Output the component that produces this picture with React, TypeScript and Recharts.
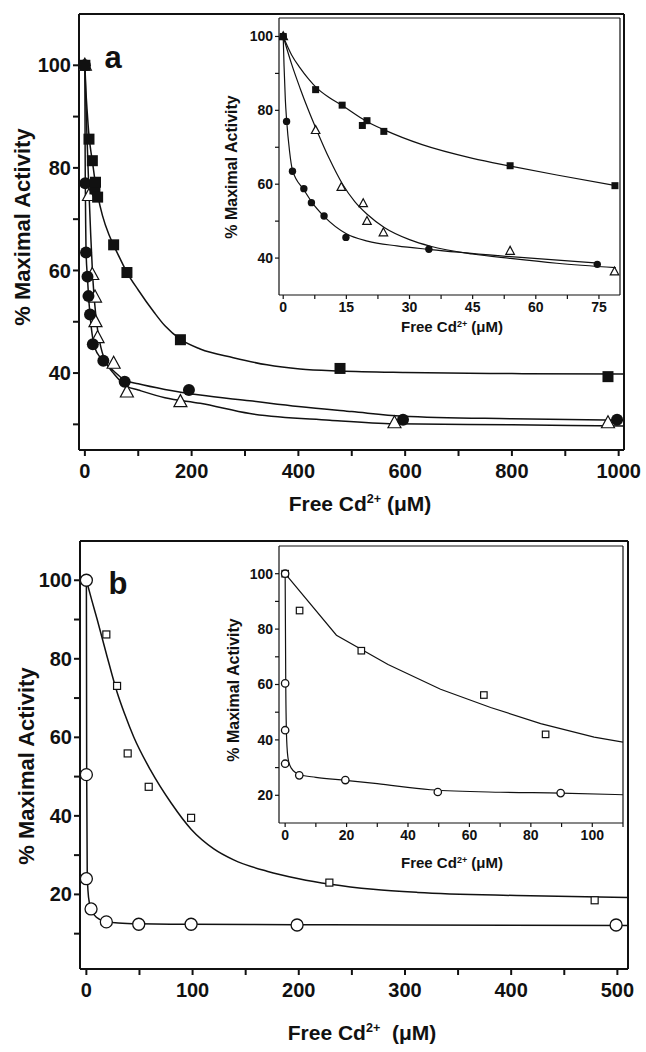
import React from "react";
import { ComposedChart, Line, Scatter, XAxis, YAxis, ReferenceLine } from "recharts";

type P = { x: number; y: number };
const pts = (rows: number[][]): P[] => rows.map(([x, y]) => ({ x, y }));

// ---- panel a: measured points (main plot, inset shows x <= 80)
const aSquares = pts([[0, 100], [7.7, 85.6], [14, 81.4], [18.8, 75.9], [19.9, 77.2], [23.9, 74.3], [53.9, 65], [78.8, 59.6], [179, 46.5], [478, 40.9], [980, 39.3]]);
const aCircles = pts([[0, 100], [0.8, 77], [2.2, 63.5], [4.9, 58.8], [6.7, 55], [9.7, 51.4], [14.9, 45.6], [34.6, 42.4], [74.6, 38.3], [195, 36.7], [596, 30.9], [997, 30.9]]);
const aTriangles = pts([[0, 100], [7.7, 74.6], [13.8, 59.2], [19, 54.8], [19.9, 50], [23.8, 46.9], [53.9, 41.9], [78.7, 36.3], [179, 34.4], [580, 30.3], [980, 30.3]]);

// ---- panel a: fitted curves
const aSquareFit = pts([[0, 100], [2, 95], [4, 91.5], [6, 88.5], [8, 86], [11, 83.4], [14, 81.3], [19.5, 77.2], [24, 74.7], [33, 70.7], [45, 67], [54, 64.9], [65, 62.5], [79, 59.6], [100, 56.2], [130, 51.8], [150, 49.2], [180, 46.5], [216, 44.7], [278, 43], [341, 41.6], [403, 40.8], [478, 40.4], [600, 40.1], [800, 39.9], [1010, 39.8]]);
const aCircleFit = pts([[0, 100], [0.2, 92], [0.5, 83], [0.8, 77.5], [1.5, 69], [2.2, 63.8], [4.9, 58.5], [6.7, 55.3], [9.7, 51.3], [15, 46.6], [20, 44.6], [27, 43.3], [35, 42.3], [54, 40.4], [75, 38.6], [100, 37.9], [150, 36.8], [216, 35.7], [309, 34.6], [400, 33.5], [500, 32.5], [595, 31.6], [800, 31.1], [1010, 30.8]]);
const aTriangleFit = pts([[0, 100], [2, 92.5], [4, 86], [6, 80], [8, 74.5], [11, 66.8], [14, 60.2], [17, 55.3], [20, 51.8], [24, 48.3], [30, 45], [35, 43.2], [45, 41.1], [54, 39.9], [65, 38.6], [79, 37.4], [100, 36.7], [150, 35.2], [216, 34.1], [309, 32.1], [459, 30.8], [580, 30.1], [800, 29.9], [1010, 29.7]]);

// ---- panel b main: points and curves
const bSquares = pts([[0, 100], [18.8, 86.2], [28.9, 73.1], [38.9, 55.9], [58.7, 47.4], [98.6, 39.5], [228.8, 23], [478.6, 18.5]]);
const bCircles = pts([[0, 100], [0, 50.5], [0, 24], [4.4, 16.3], [18.8, 13], [49.3, 12.4], [98.6, 12.4], [198.4, 12.2], [498.8, 12.2]]);
const bSquareFit = pts([[0, 100], [5, 95], [10, 90.2], [18.8, 81.3], [28.9, 71.5], [36, 66], [44.6, 60.1], [60.3, 51.7], [80, 43.2], [98.6, 36.6], [120, 31.6], [138.7, 28.8], [170, 25.9], [200, 24], [229.8, 22.6], [270, 21.3], [312, 20.5], [405, 19.7], [510, 19.2]]);
const bCircleFit = pts([[0, 100], [0.3, 50], [0.8, 26], [1.5, 21], [3, 17.6], [4.4, 16.3], [8, 14.6], [12, 13.7], [18.8, 13], [30, 12.7], [49.3, 12.5], [98.6, 12.4], [198.4, 12.3], [300, 12.2], [510, 12.1]]);

// ---- panel b inset: points and curves
const bInSquares = pts([[0, 100], [4.7, 86.7], [24.8, 72.2], [64.7, 56.2], [84.8, 42]]);
const bInCircles = pts([[0, 100], [0, 60.4], [0, 43.5], [0, 31.4], [4.6, 27.2], [19.6, 25.5], [49.7, 21.2], [89.7, 20.8]]);
const bInSquareFit = pts([[0, 100], [16.7, 77.8], [33.5, 67.2], [50.6, 58.3], [66.9, 51.7], [83.2, 45.9], [100.6, 41], [110, 39.2]]);
const bInCircleFit = pts([[0, 100], [0.2, 60], [0.5, 40], [1, 33], [2, 29.8], [4.6, 27.5], [10, 26.5], [19.6, 25.4], [30, 24.2], [47.3, 22], [70, 21.1], [89.7, 20.8], [110, 20.2]]);

// ---- ticks
const aXTicks = [0, 100, 200, 300, 400, 500, 600, 700, 800, 900, 1000];
const aXLabels = [0, 200, 400, 600, 800, 1000];
const aYTicks = [30, 40, 50, 60, 70, 80, 90, 100];
const aYLabels = [40, 60, 80, 100];
const aInXTicks = [0, 7.5, 15, 22.5, 30, 37.5, 45, 52.5, 60, 67.5, 75];
const aInXLabels = [0, 15, 30, 45, 60, 75];
const aInYTicks = [40, 50, 60, 70, 80, 90, 100];
const aInYLabels = [40, 60, 80, 100];
const bXTicks = [0, 50, 100, 150, 200, 250, 300, 350, 400, 450, 500];
const bXLabels = [0, 100, 200, 300, 400, 500];
const bYTicks = [10, 20, 30, 40, 50, 60, 70, 80, 90, 100];
const bYLabels = [20, 40, 60, 80, 100];
const bInXTicks = [0, 10, 20, 30, 40, 50, 60, 70, 80, 90, 100, 110];
const bInXLabels = [0, 20, 40, 60, 80, 100];
const bInYTicks = [20, 30, 40, 50, 60, 70, 80, 90, 100];
const bInYLabels = [20, 40, 60, 80, 100];

const INK = "#111";
const FONT = "'Liberation Sans', Arial, sans-serif";

const fSquare = (s: number) => (p: any) => <rect x={p.cx - s / 2} y={p.cy - s / 2} width={s} height={s} fill={INK} />;
const fCircle = (r: number) => (p: any) => <circle cx={p.cx} cy={p.cy} r={r} fill={INK} />;
const oTriangle = (s: number) => (p: any) => (
  <polygon
    points={`${p.cx},${p.cy - s * 0.55} ${p.cx - s / 2},${p.cy + s * 0.38} ${p.cx + s / 2},${p.cy + s * 0.38}`}
    fill="#fff"
    stroke={INK}
    strokeWidth={1.2}
  />
);
const oSquare = (s: number) => (p: any) => (
  <rect x={p.cx - s / 2} y={p.cy - s / 2} width={s} height={s} fill="#fff" stroke={INK} strokeWidth={1.2} />
);
const oCircle = (r: number) => (p: any) => <circle cx={p.cx} cy={p.cy} r={r} fill="#fff" stroke={INK} strokeWidth={1.3} />;

const fit = (key: string, data: P[], w: number, type: "monotone" | "linear" = "monotone") => (
  <Line key={key} data={data} dataKey="y" type={type} stroke={INK} strokeWidth={w} dot={false} activeDot={false} isAnimationActive={false} />
);
const marks = (key: string, data: P[], shape: any) => (
  <Scatter key={key} data={data} dataKey="y" shape={shape} isAnimationActive={false} />
);

type PlotProps = {
  left: number; top: number; width: number; height: number;
  margin: { top: number; right: number; bottom: number; left: number };
  yWidth: number; xHeight: number;
  xDomain: [number, number]; yDomain: [number, number];
  xTicks: number[]; xLabels: number[]; yTicks: number[]; yLabels: number[];
  fontSize: number; tick: number; xMargin: number; yMargin: number; line: number;
  children: React.ReactNode;
};

function Plot(p: PlotProps) {
  const tickStyle = { fontSize: p.fontSize, fontWeight: 700, fill: INK, fontFamily: FONT };
  const axisStyle = { stroke: INK, strokeWidth: p.line };
  return (
    <div style={{ position: "absolute", left: p.left, top: p.top }}>
      <ComposedChart width={p.width} height={p.height} margin={p.margin}>
        <XAxis
          type="number" dataKey="x" domain={p.xDomain} allowDataOverflow ticks={p.xTicks} interval={0}
          tickFormatter={(v: number) => (p.xLabels.includes(v) ? String(v) : "")}
          height={p.xHeight} tickSize={p.tick} tickMargin={p.xMargin}
          tick={tickStyle} axisLine={axisStyle} tickLine={axisStyle}
        />
        <YAxis
          type="number" dataKey="y" domain={p.yDomain} allowDataOverflow ticks={p.yTicks} interval={0}
          tickFormatter={(v: number) => (p.yLabels.includes(v) ? String(v) : "")}
          width={p.yWidth} tickSize={p.tick} tickMargin={p.yMargin}
          tick={tickStyle} axisLine={axisStyle} tickLine={axisStyle}
        />
        <ReferenceLine x={p.xDomain[1]} stroke={INK} strokeWidth={p.line} />
        <ReferenceLine y={p.yDomain[1]} stroke={INK} strokeWidth={p.line} />
        {p.children}
      </ComposedChart>
    </div>
  );
}

function Txt({ x, y, size, rotate, children }: { x: number; y: number; size: number; rotate?: boolean; children: React.ReactNode }) {
  return (
    <div
      style={{
        position: "absolute", left: x, top: y, transform: `translate(-50%, -50%)${rotate ? " rotate(-90deg)" : ""}`,
        fontFamily: FONT, fontWeight: 700, fontSize: size, lineHeight: 1, color: INK, whiteSpace: "pre",
      }}
    >
      {children}
    </div>
  );
}

const Sup = () => (
  <span style={{ fontSize: "0.6em", position: "relative", top: "-0.6em" }}>2+</span>
);

const upTo = (d: P[], m: number) => d.filter((q) => q.x <= m);

export default function App() {
  return (
    <div style={{ position: "absolute", left: 0, top: 0, width: 646, height: 1052, background: "#fff" }}>
      {/* panel a main */}
      <Plot left={0} top={0} width={646} height={520} margin={{ top: 14, right: 22, bottom: 30, left: 0 }}
        yWidth={79} xHeight={40} xDomain={[-11, 1010]} yDomain={[25, 110]}
        xTicks={aXTicks} xLabels={aXLabels} yTicks={aYTicks} yLabels={aYLabels}
        fontSize={20} tick={6} xMargin={8} yMargin={2} line={2}>
        {[
          fit("sf", aSquareFit, 1.5),
          fit("cf", aCircleFit, 1.5),
          fit("tf", aTriangleFit, 1.5),
          marks("t", aTriangles, oTriangle(13)),
          marks("c", aCircles, fCircle(6)),
          marks("s", aSquares, fSquare(11)),
        ]}
      </Plot>
      {/* panel a inset */}
      <Plot left={200} top={0} width={446} height={340} margin={{ top: 18, right: 26, bottom: 15, left: 0 }}
        yWidth={79} xHeight={30} xDomain={[-1, 80]} yDomain={[30, 105]}
        xTicks={aInXTicks} xLabels={aInXLabels} yTicks={aInYTicks} yLabels={aInYLabels}
        fontSize={14} tick={4} xMargin={3} yMargin={2} line={1.2}>
        {[
          fit("sf", upTo(aSquareFit, 80), 1.2),
          fit("cf", upTo(aCircleFit, 80), 1.2),
          fit("tf", upTo(aTriangleFit, 80), 1.2),
          marks("t", upTo(aTriangles, 80), oTriangle(8.5)),
          marks("c", upTo(aCircles, 80), fCircle(3.7)),
          marks("s", upTo(aSquares, 80), fSquare(7)),
        ]}
      </Plot>
      <Txt x={23} y={227} size={22} rotate>% Maximal Activity</Txt>
      <Txt x={360} y={503} size={21}>Free Cd<Sup /> (μM)</Txt>
      <Txt x={113} y={57} size={31}>a</Txt>
      <Txt x={232} y={167} size={16} rotate>% Maximal Activity</Txt>
      <Txt x={452} y={326} size={15}>Free Cd<Sup /> (μM)</Txt>

      {/* panel b main */}
      <Plot left={0} top={520} width={646} height={532} margin={{ top: 21, right: 18, bottom: 43, left: 0 }}
        yWidth={80} xHeight={40} xDomain={[-6, 510]} yDomain={[1, 110]}
        xTicks={bXTicks} xLabels={bXLabels} yTicks={bYTicks} yLabels={bYLabels}
        fontSize={20} tick={6} xMargin={8} yMargin={2} line={2}>
        {[
          fit("sf", bSquareFit, 1.5),
          fit("cf", bCircleFit, 1.5),
          marks("s", bSquares, oSquare(7)),
          marks("c", bCircles, oCircle(6)),
        ]}
      </Plot>
      {/* panel b inset */}
      <Plot left={200} top={520} width={446} height={360} margin={{ top: 26, right: 23, bottom: 27, left: 0 }}
        yWidth={79} xHeight={30} xDomain={[-2, 110]} yDomain={[10, 110]}
        xTicks={bInXTicks} xLabels={bInXLabels} yTicks={bInYTicks} yLabels={bInYLabels}
        fontSize={14} tick={4} xMargin={3} yMargin={2} line={1.2}>
        {[
          fit("sf", bInSquareFit, 1.2, "linear"),
          fit("cf", bInCircleFit, 1.2),
          marks("s", bInSquares, oSquare(6.5)),
          marks("c", bInCircles, oCircle(3.7)),
        ]}
      </Plot>
      <Txt x={27} y={766} size={22} rotate>% Maximal Activity</Txt>
      <Txt x={362} y={1032} size={21}>Free Cd<Sup />{"  "}(μM)</Txt>
      <Txt x={118} y={583} size={31}>b</Txt>
      <Txt x={234} y={690} size={16} rotate>% Maximal Activity</Txt>
      <Txt x={452} y={862} size={15}>Free Cd<Sup /> (μM)</Txt>
    </div>
  );
}
